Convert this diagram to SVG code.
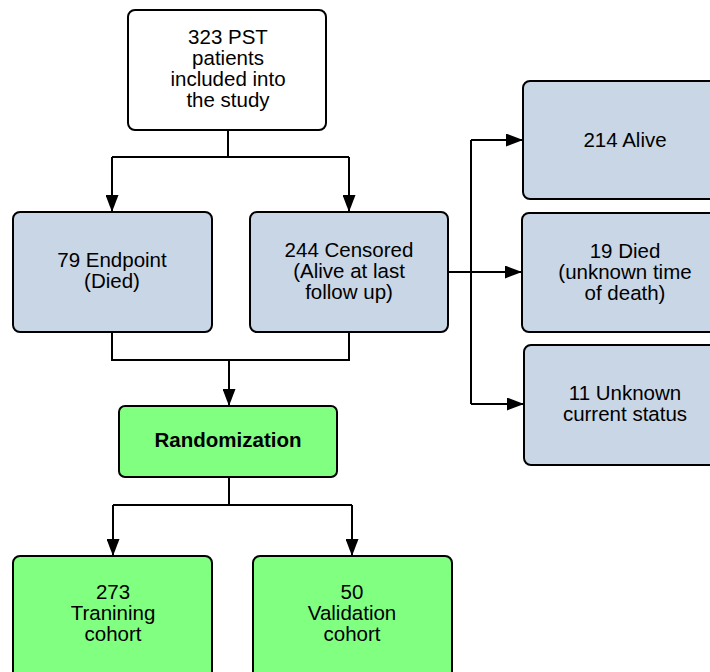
<svg xmlns="http://www.w3.org/2000/svg" width="710" height="672" viewBox="0 0 710 672">
<defs>
<marker id="ah" markerWidth="17" markerHeight="13" refX="17" refY="6.5" orient="auto" markerUnits="userSpaceOnUse">
<path d="M0,0 L17,6.5 L0,13 Z" fill="#000"/>
</marker>
<style>
.box{stroke:#000;stroke-width:2}
.blue{fill:#c9d6e5}
.green{fill:#80ff80}
.white{fill:#fff}
text{font-family:"Liberation Sans",Arial,sans-serif;font-size:20.5px;fill:#000;text-anchor:middle}
.b{font-weight:bold}
.c{fill:none;stroke:#000;stroke-width:2}
</style>
</defs>
<rect width="710" height="672" fill="#fff"/>
<g id="connectors">
<path class="c" d="M228,130 V157 M112,157 H349"/>
<path class="c" d="M112,157 V212" marker-end="url(#ah)"/>
<path class="c" d="M349,157 V212" marker-end="url(#ah)"/>
<path class="c" d="M112,332 V360 H349 V332"/>
<path class="c" d="M229,360 V406" marker-end="url(#ah)"/>
<path class="c" d="M229,477 V505 M113,505 H352"/>
<path class="c" d="M113,505 V556" marker-end="url(#ah)"/>
<path class="c" d="M352,505 V556" marker-end="url(#ah)"/>
<path class="c" d="M448,272 H471 M471,140 V404"/>
<path class="c" d="M471,140 H523" marker-end="url(#ah)"/>
<path class="c" d="M471,272 H522" marker-end="url(#ah)"/>
<path class="c" d="M471,404 H524" marker-end="url(#ah)"/>
</g>
<g id="n_start">
<rect class="box white" x="128" y="10" width="198" height="120" rx="7"/>
<text x="228" y="44">323 PST</text>
<text x="228" y="65">patients</text>
<text x="228" y="86">included into</text>
<text x="228" y="107">the study</text>
</g>
<g id="n_endpoint">
<rect class="box blue" x="13" y="212" width="199" height="120" rx="7"/>
<text x="112" y="267">79 Endpoint</text>
<text x="112" y="288">(Died)</text>
</g>
<g id="n_censored">
<rect class="box blue" x="250" y="212" width="198" height="120" rx="7"/>
<text x="349" y="257">244 Censored</text>
<text x="349" y="278">(Alive at last</text>
<text x="349" y="299">follow up)</text>
</g>
<g id="n_alive">
<rect class="box blue" x="523" y="81" width="199" height="118" rx="7"/>
<text x="625" y="147">214 Alive</text>
</g>
<g id="n_died">
<rect class="box blue" x="522" y="213" width="200" height="119" rx="7"/>
<text x="625" y="258">19 Died</text>
<text x="625" y="279">(unknown time</text>
<text x="625" y="300">of death)</text>
</g>
<g id="n_unknown">
<rect class="box blue" x="524" y="345" width="198" height="120" rx="7"/>
<text x="625" y="400">11 Unknown</text>
<text x="625" y="421">current status</text>
</g>
<g id="n_random">
<rect class="box green" x="119" y="406" width="218" height="71" rx="6"/>
<text class="b" x="228" y="447">Randomization</text>
</g>
<g id="n_training">
<rect class="box green" x="13" y="556" width="199" height="130" rx="7"/>
<text x="113" y="599">273</text>
<text x="113" y="620">Tranining</text>
<text x="113" y="641">cohort</text>
</g>
<g id="n_validation">
<rect class="box green" x="253" y="556" width="199" height="130" rx="7"/>
<text x="352" y="599">50</text>
<text x="352" y="620">Validation</text>
<text x="352" y="641">cohort</text>
</g>
</svg>
